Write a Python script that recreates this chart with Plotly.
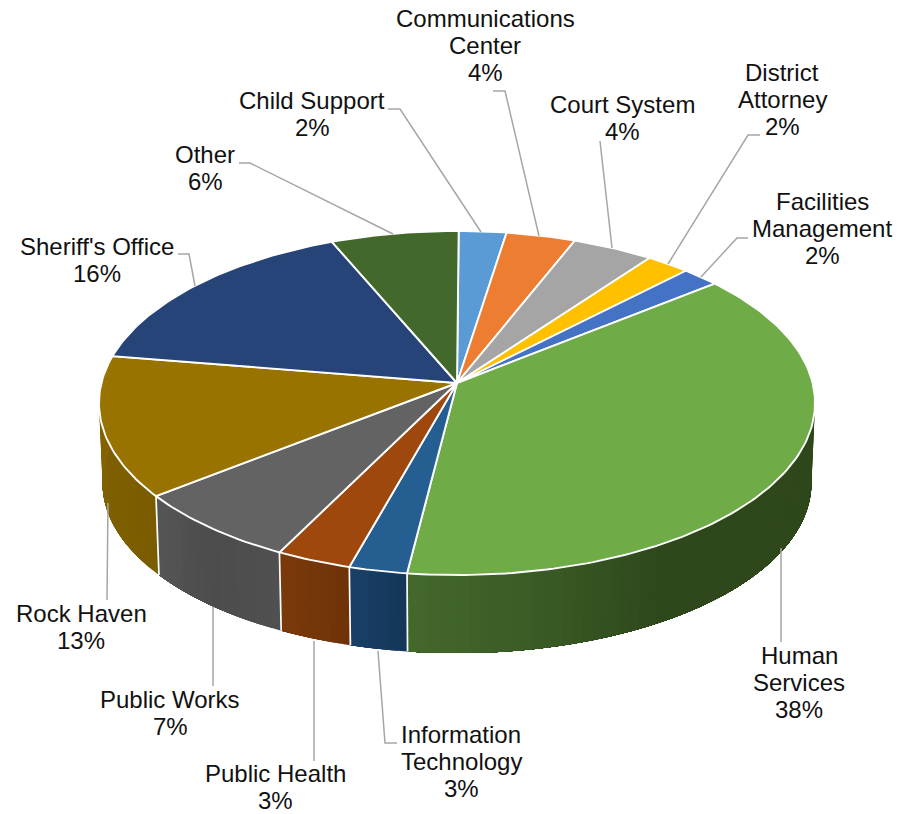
import numpy as np
import plotly.graph_objects as go

departments = ["Child Support", "Communications Center", "Court System", "District Attorney",
               "Facilities Management", "Human Services", "Information Technology", "Public Health",
               "Public Works", "Rock Haven", "Sheriff's Office", "Other"]
shares = [2.4, 3.5, 4.1, 2.2, 1.9, 37.8, 2.35, 3.05, 7.0, 13.2, 16.05, 6.45]
percent_labels = ["2%", "4%", "4%", "2%", "2%", "38%", "3%", "3%", "7%", "13%", "16%", "6%"]
top_colors = ["#5B9BD5", "#ED7D31", "#A5A5A5", "#FFC000", "#4472C4", "#6FAC47",
              "#255E91", "#9E480E", "#636363", "#997300", "#264478", "#43682B"]
# side shading, clockwise from each slice's start
side_colors = {
    "Human Services": ["#2e471b", "#2e471b", "#2e471b", "#2e471b", "#2e471b", "#2e471b", "#395a25", "#44692b"],
    "Information Technology": ["#153658", "#1a4068"],
    "Public Health": ["#6f3208", "#7a3a0a"],
    "Public Works": ["#505050", "#4c4c4c", "#565656"],
    "Rock Haven": ["#7a5c00", "#866500"],
}
label_lines = [["Child Support"], ["Communications", "Center"], ["Court System"], ["District", "Attorney"],
               ["Facilities", "Management"], ["Human", "Services"], ["Information", "Technology"],
               ["Public Health"], ["Public Works"], ["Rock Haven"], ["Sheriff's Office"], ["Other"]]
label_x = [312, 485, 622, 782, 822, 799, 461, 275, 170, 81, 97, 205]
label_y = [100, 18, 104, 72, 201, 655, 734, 773, 699, 613, 246, 154]
LINE_STEP = 27.4
leaders = [
    [(388, 109), (400, 109), (481, 232)],
    [(493, 91), (505, 91), (539, 236)],
    [(600, 141), (612, 248)],
    [(760, 135), (748, 135), (668, 264)],
    [(748, 238), (737, 238), (701, 277)],
    [(781, 548), (781, 642)],
    [(378, 651), (385, 743), (397, 743)],
    [(314, 641), (314, 761)],
    [(213, 607), (213, 686)],
    [(108, 503), (107, 600)],
    [(178, 254), (189, 254), (195, 286)],
    [(239, 163), (250, 163), (393, 234)],
]

CX, AY = 457.0, 383.0
S, T, K = 355.6, 169.7, 0.1163
START = 0.3
BOTTOM_DY, BOTTOM_SX, BOTTOM_SY = 80.0, 0.99, 0.99


def project(theta_deg, bottom=False):
    th = np.radians(theta_deg)
    u, v = np.sin(th), np.cos(th)
    d = 1 + K * v
    x, y = S * u / d, -T * v / d
    if bottom:
        return CX + BOTTOM_SX * x, AY + BOTTOM_DY + BOTTOM_SY * y
    return CX + x, AY + y


def hex_rgb(c):
    return np.array([int(c[i:i + 2], 16) for i in (1, 3, 5)], float)


def ramp(stops, t):
    pos = t * (len(stops) - 1)
    i = min(int(pos), len(stops) - 2)
    f = pos - i
    rgb = hex_rgb(stops[i]) * (1 - f) + hex_rgb(stops[i + 1]) * f
    return "rgb(%d,%d,%d)" % tuple(rgb.round())


edges = START + np.concatenate([[0], np.cumsum(shares)]) * 3.6
VIS_LO, VIS_HI = 80.0, 280.0
fig = go.Figure()

# side wall: each step paints to the slice's far end, the next step overpaints it
for name, a0, a1 in zip(departments, edges[:-1], edges[1:]):
    if name not in side_colors:
        continue
    lo, hi = max(a0, VIS_LO), min(a1, VIS_HI)
    n = max(6, int((hi - lo) / 1.5))
    for s0 in np.linspace(lo, hi, n + 1)[:-1]:
        th = np.r_[np.arange(s0, hi, 1.0), hi]
        tx, ty = project(th)
        bx, by = project(th[::-1], bottom=True)
        col = ramp(side_colors[name], ((s0 + (hi - lo) / n / 2) - a0) / (a1 - a0))
        fig.add_trace(go.Scatter(x=np.r_[tx, bx, tx[0]], y=np.r_[ty, by, ty[0]], mode="none", fill="toself",
                                 fillcolor=col, hoverinfo="skip"))

# white separators on the side wall
for a in edges:
    if 100 < a < 260:
        tx, ty = project(a)
        bx, by = project(a, bottom=True)
        fig.add_trace(go.Scatter(x=[tx, bx], y=[ty, by], mode="lines",
                                 line=dict(color="white", width=1.7), hoverinfo="skip"))

# top face
for col, a0, a1 in zip(top_colors, edges[:-1], edges[1:]):
    th = np.r_[np.arange(a0, a1, 1.0), a1]
    x, y = project(th)
    fig.add_trace(go.Scatter(x=np.r_[CX, x, CX], y=np.r_[AY, y, AY], mode="lines", fill="toself",
                             fillcolor=col, line=dict(color="white", width=1.9), hoverinfo="skip"))

# leader lines
for pts in leaders:
    fig.add_trace(go.Scatter(x=[p[0] for p in pts], y=[p[1] for p in pts], mode="lines",
                             line=dict(color="#A6A6A6", width=1.5), hoverinfo="skip"))

# labels
annotations = []
for lines, pct, lx, ly in zip(label_lines, percent_labels, label_x, label_y):
    for i, txt in enumerate(lines + [pct]):
        annotations.append(dict(x=lx, y=ly + i * LINE_STEP, text=txt, showarrow=False,
                                xanchor="center", yanchor="middle",
                                font=dict(family="Liberation Sans", size=24, color="#111111")))

fig.update_layout(
    width=910, height=814, autosize=False, showlegend=False,
    margin=dict(l=0, r=0, t=0, b=0), paper_bgcolor="white", plot_bgcolor="white",
    xaxis=dict(range=[0, 910], visible=False, fixedrange=True),
    yaxis=dict(range=[814, 0], visible=False, fixedrange=True),
    annotations=annotations,
)
fig.write_html("out.html", config={"displayModeBar": False},
               post_script="document.body.style.margin='0';document.body.style.overflow='hidden';")
